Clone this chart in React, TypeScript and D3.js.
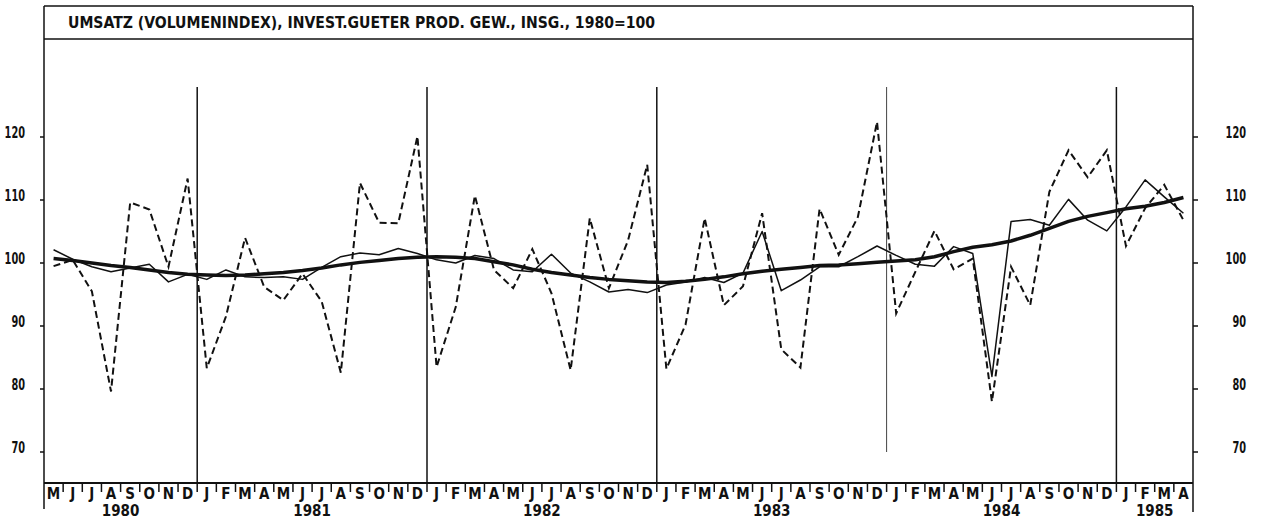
import React from "react";
import * as d3 from "d3";

const TITLE = "UMSATZ (VOLUMENINDEX), INVEST.GUETER PROD. GEW., INSG., 1980=100";
const MONTH_LETTERS = ["J", "F", "M", "A", "M", "J", "J", "A", "S", "O", "N", "D"];
const START_YEAR = 1980;
const START_MONTH = 4; // May
const N_MONTHS = 60;
const YEARS = ["1980", "1981", "1982", "1983", "1984", "1985"];
const Y_TICKS = [70, 80, 90, 100, 110, 120];

// Original values (dashed)
const RAW = [
  99.5, 100.5, 95.5, 79.6, 109.6, 108.5, 99.4, 113.4,
  83.3, 91.5, 104.0, 96.2, 94.1, 98.3, 93.9, 82.6, 112.7, 106.4, 106.3, 120.1,
  83.5, 93.0, 110.7, 98.9, 96.0, 102.2, 95.2, 83.0, 107.1, 96.0, 103.6, 115.6,
  83.2, 90.2, 107.1, 93.3, 96.3, 107.9, 86.3, 83.4, 108.6, 101.3, 107.3, 122.4,
  92.0, 98.6, 105.1, 99.0, 100.7, 78.0, 99.4, 93.3, 111.3, 117.9, 113.6, 117.9,
  102.7, 108.7, 112.4, 106.8,
];

// Seasonally adjusted (thin solid)
const ADJUSTED = [
  102.1, 100.6, 99.4, 98.6, 99.2, 99.8, 97.0, 98.2,
  97.4, 98.9, 97.8, 97.7, 97.8, 97.4, 99.3, 101.0, 101.6, 101.3, 102.3, 101.5,
  100.5, 100.0, 101.2, 100.7, 98.9, 98.6, 101.4, 98.4, 97.0, 95.4, 95.8, 95.3,
  96.5, 97.0, 97.7, 96.9, 98.4, 105.0, 95.6, 97.3, 99.4, 99.4, 101.0, 102.7,
  101.2, 99.8, 99.5, 102.6, 101.5, 82.0, 106.6, 106.9, 106.0, 110.1, 106.8, 105.1,
  108.9, 113.2, 110.5, 107.9,
];

// Trend (thick solid)
const TREND = [
  100.7, 100.4, 100.0, 99.6, 99.3, 98.9, 98.5, 98.2,
  98.1, 98.0, 98.1, 98.3, 98.5, 98.8, 99.2, 99.7, 100.1, 100.4, 100.7, 100.9,
  101.0, 100.9, 100.7, 100.2, 99.7, 99.0, 98.5, 98.1, 97.7, 97.4, 97.2, 97.0,
  96.9, 97.1, 97.4, 97.8, 98.3, 98.7, 99.0, 99.3, 99.6, 99.7, 99.9, 100.1,
  100.3, 100.5, 101.0, 101.8, 102.5, 102.9, 103.5, 104.4, 105.5, 106.6, 107.4, 108.0,
  108.6, 109.0, 109.6, 110.4,
];

const MONTHS = d3.range(N_MONTHS).map((i) => {
  const m = (START_MONTH + i) % 12;
  const y = START_YEAR + Math.floor((START_MONTH + i) / 12);
  return { idx: i, letter: MONTH_LETTERS[m], year: String(y), month: m };
});

const W = 1261;
const H = 522;
const FONT = "'DejaVu Sans Condensed', 'DejaVu Sans', sans-serif";

export default function App() {
  const left = 44;
  const right = 1193;
  const titleTop = 6;
  const titleBottom = 39;
  const axisY = 483;
  const x = d3.scaleLinear().domain([0, N_MONTHS]).range([left, right]);
  const y = d3.scaleLinear().domain([70, 120]).range([452, 137]);
  const cx = (i: number) => x(i + 0.5);

  const line = d3
    .line<number>()
    .x((_, i) => cx(i))
    .y((d) => y(d));

  const yearSpans = YEARS.map((yr) => {
    const ms = MONTHS.filter((m) => m.year === yr);
    return { yr, start: ms[0].idx, end: ms[ms.length - 1].idx + 1 };
  });
  const yearLines = yearSpans.slice(1).map((s) => s.start);

  const ink = "#111";
  const labelW = (t: number) => String(t).length * 6.8;

  return (
    <svg
      width={W}
      height={H}
      style={{ position: "fixed", left: 0, top: 0, background: "#fff" }}
    >
      <rect x={0} y={0} width={W} height={H} fill="#fff" />
      {/* title box */}
      <line x1={left} x2={right} y1={titleTop} y2={titleTop} stroke={ink} strokeWidth={1.5} />
      <line x1={left} x2={right} y1={titleBottom} y2={titleBottom} stroke={ink} strokeWidth={1.5} />
      <text
        x={68}
        y={28}
        fontFamily={FONT}
        fontSize={15}
        fontWeight="bold"
        fill={ink}
        textLength={587}
        lengthAdjust="spacingAndGlyphs"
      >
        {TITLE}
      </text>
      {/* frame verticals */}
      <line x1={left} x2={left} y1={titleTop} y2={509} stroke={ink} strokeWidth={1.5} />
      <line x1={right} x2={right} y1={titleTop} y2={512} stroke={ink} strokeWidth={1.5} />
      {/* bottom axis */}
      <line x1={left} x2={right} y1={axisY} y2={axisY} stroke={ink} strokeWidth={2} />

      {/* year separator lines */}
      {yearLines.map((s, k) => {
        const is84 = YEARS[k + 1] === "1984";
        return (
          <line
            key={"yl" + k}
            x1={x(s)}
            x2={x(s)}
            y1={87}
            y2={is84 ? 452 : axisY}
            stroke={is84 ? "#444" : ink}
            strokeWidth={is84 ? 1 : 1.5}
          />
        );
      })}

      {/* y ticks left & right */}
      {Y_TICKS.map((t) => (
        <g key={"yt" + t}>
          <line x1={left - 4} x2={left} y1={y(t)} y2={y(t)} stroke={ink} strokeWidth={1.5} />
          <line x1={right} x2={right + 5} y1={y(t)} y2={y(t)} stroke={ink} strokeWidth={1.5} />
          <text
            x={25 - labelW(t)}
            y={y(t) + 1}
            fontFamily={FONT}
            fontSize={15}
            fontWeight="bold"
            fill={ink}
            textLength={labelW(t)}
            lengthAdjust="spacingAndGlyphs"
          >
            {t}
          </text>
          <text
            x={1246 - labelW(t)}
            y={y(t) + 1}
            fontFamily={FONT}
            fontSize={15}
            fontWeight="bold"
            fill={ink}
            textLength={labelW(t)}
            lengthAdjust="spacingAndGlyphs"
          >
            {t}
          </text>
        </g>
      ))}

      {/* month ticks and letters */}
      {MONTHS.map((m) => (
        <g key={"m" + m.idx}>
          {m.idx > 0 && (
            <line
              x1={x(m.idx)}
              x2={x(m.idx)}
              y1={axisY}
              y2={axisY + 9}
              stroke={ink}
              strokeWidth={1.5}
            />
          )}
          <text
            x={cx(m.idx)}
            y={499}
            textAnchor="middle"
            fontFamily={FONT}
            fontSize={15}
            fontWeight="bold"
            fill={ink}
          >
            {m.letter}
          </text>
        </g>
      ))}
      {yearSpans.map((s) => (
        <text
          key={"yr" + s.yr}
          x={(x(s.start) + x(s.end)) / 2}
          y={516}
          textAnchor="middle"
          fontFamily={FONT}
          fontSize={15}
          fontWeight="bold"
          fill={ink}
        >
          {s.yr}
        </text>
      ))}

      {/* series */}
      <path d={line(RAW) || ""} fill="none" stroke={ink} strokeWidth={2} strokeDasharray="7,4" />
      <path d={line(ADJUSTED) || ""} fill="none" stroke={ink} strokeWidth={1.5} strokeLinejoin="round" />
      <path d={line(TREND) || ""} fill="none" stroke={ink} strokeWidth={3.5} strokeLinejoin="round" />
    </svg>
  );
}
